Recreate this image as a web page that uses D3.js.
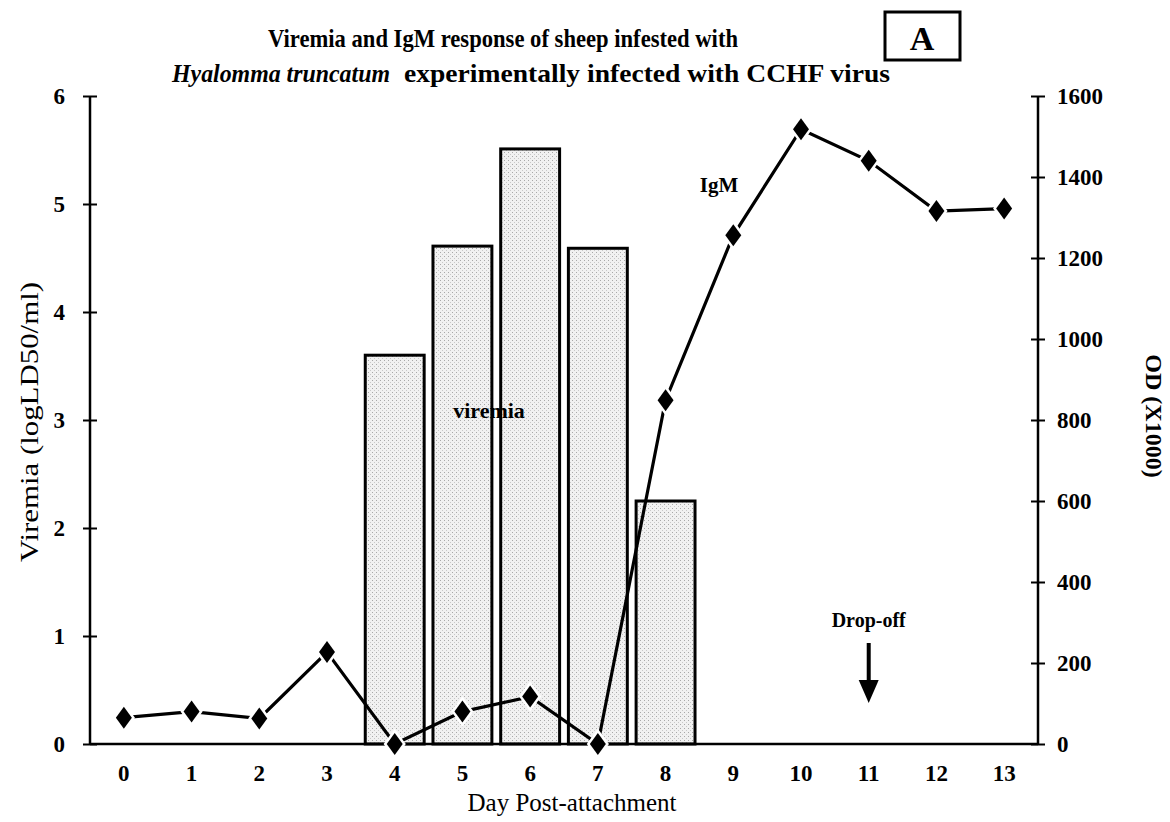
<!DOCTYPE html>
<html>
<head>
<meta charset="utf-8">
<script src="https://cdn.jsdelivr.net/npm/d3@7"></script>
<style>
  body { margin: 0; background: #fff; }
  svg { display: block; font-family: "Liberation Serif", "DejaVu Serif", serif; }
  .tick text { font-weight: bold; font-size: 23px; }
</style>
</head>
<body>
<svg id="chart" width="1170" height="822"></svg>
<script>
// Data
var days = [0, 1, 2, 3, 4, 5, 6, 7, 8, 9, 10, 11, 12, 13];
var igm = [65, 80, 63, 227, 0, 80, 117, 0, 849, 1256, 1518, 1440, 1316, 1322];
var viremiaDays = [4, 5, 6, 7, 8];
var viremia = [3.6, 4.61, 5.51, 4.59, 2.25];
var leftTicks = [0, 1, 2, 3, 4, 5, 6];
var rightTicks = [0, 200, 400, 600, 800, 1000, 1200, 1400, 1600];
var dropDay = 11;

// Layout (plot edges)
var pLeft = 90, pRight = 1038, pTop = 96, pBottom = 744;
var serif = '"Liberation Serif", "DejaVu Serif", serif';

var svg = d3.select('#chart');

var x = d3.scaleBand()
  .domain(days)
  .range([pLeft, pRight])
  .paddingInner(0.13)
  .paddingOuter(0.065);

var xc = function (d) { return x(d) + x.bandwidth() / 2; };

var yL = d3.scaleLinear().domain([0, 6]).range([pBottom, pTop]);
var yR = d3.scaleLinear().domain([0, 1600]).range([pBottom, pTop]);

// stipple pattern for bars
var defs = svg.append('defs');
var pat = defs.append('pattern')
  .attr('id', 'stipple')
  .attr('width', 4).attr('height', 4)
  .attr('patternUnits', 'userSpaceOnUse');
pat.append('rect').attr('width', 4).attr('height', 4).attr('fill', '#f1f1f1');
pat.append('rect').attr('x', 0).attr('y', 0).attr('width', 1).attr('height', 1).attr('fill', '#a8a8a8');
pat.append('rect').attr('x', 2).attr('y', 2).attr('width', 1).attr('height', 1).attr('fill', '#c8c8c8');

// Bars (viremia)
svg.append('g').selectAll('rect')
  .data(viremiaDays)
  .enter().append('rect')
  .attr('x', function (d) { return x(d); })
  .attr('y', function (d, i) { return yL(viremia[i]); })
  .attr('width', x.bandwidth())
  .attr('height', function (d, i) { return yL(0) - yL(viremia[i]); })
  .attr('fill', 'url(#stipple)')
  .attr('stroke', '#000')
  .attr('stroke-width', 3);

// X axis line (no day ticks in the original)
svg.append('line')
  .attr('x1', pLeft).attr('x2', pRight)
  .attr('y1', pBottom).attr('y2', pBottom)
  .attr('stroke', '#000').attr('stroke-width', 2.5);

var xAxis = svg.append('g')
  .attr('transform', 'translate(0,' + pBottom + ')')
  .call(d3.axisBottom(x).tickSize(0).tickPadding(21));
xAxis.attr('font-family', serif);
xAxis.select('.domain').remove();
xAxis.selectAll('text').attr('font-size', 25);

// Left axis (cross ticks)
var axL = svg.append('g')
  .attr('transform', 'translate(' + pLeft + ',0)')
  .call(d3.axisLeft(yL).tickValues(leftTicks).tickFormat(d3.format('d')).tickSize(7).tickPadding(14));
axL.attr('font-family', serif);
axL.select('.domain').attr('d', 'M0,' + pTop + 'V' + pBottom).attr('stroke-width', 2.5);
axL.selectAll('.tick line').attr('x1', 7).attr('x2', -7).attr('stroke-width', 2);
axL.selectAll('text').attr('dx', -4).attr('font-size', 24);

// Right axis
var axR = svg.append('g')
  .attr('transform', 'translate(' + pRight + ',0)')
  .call(d3.axisRight(yR).tickValues(rightTicks).tickFormat(d3.format('d')).tickSize(7).tickPadding(12));
axR.attr('font-family', serif);
axR.select('.domain').attr('d', 'M0,' + pTop + 'V' + pBottom).attr('stroke-width', 2.5);
axR.selectAll('.tick line').attr('x1', -7).attr('x2', 7).attr('stroke-width', 2);
axR.selectAll('text').attr('font-size', 24);

// IgM line
var line = d3.line()
  .x(function (d) { return xc(d); })
  .y(function (d, i) { return yR(igm[i]); });

svg.append('path')
  .datum(days)
  .attr('d', line)
  .attr('fill', 'none')
  .attr('stroke', '#000')
  .attr('stroke-width', 3.2);

// diamond markers with white halo to leave gaps like the original
var diamond = 'M0,-11L8,0L0,11L-8,0Z';
svg.append('g').selectAll('path')
  .data(days)
  .enter().append('path')
  .attr('d', diamond)
  .attr('transform', function (d, i) { return 'translate(' + xc(d) + ',' + yR(igm[i]) + ')'; })
  .attr('fill', '#000')
  .attr('stroke', '#fff')
  .attr('stroke-width', 5)
  .attr('paint-order', 'stroke');

// Annotations
svg.append('text')
  .attr('x', 719).attr('y', 192)
  .attr('text-anchor', 'middle')
  .attr('font-weight', 'bold').attr('font-size', 21)
  .text('IgM');

svg.append('text')
  .attr('x', 489).attr('y', 418)
  .attr('text-anchor', 'middle')
  .attr('font-weight', 'bold').attr('font-size', 22)
  .text('viremia');

svg.append('text')
  .attr('x', xc(dropDay)).attr('y', 627)
  .attr('text-anchor', 'middle')
  .attr('font-size', 20)
  .attr('font-weight', 'bold')
  .text('Drop-off');

svg.append('line')
  .attr('x1', xc(dropDay)).attr('x2', xc(dropDay))
  .attr('y1', 643).attr('y2', 682)
  .attr('stroke', '#000').attr('stroke-width', 4);
svg.append('path')
  .attr('d', 'M' + (xc(dropDay) - 10) + ',680L' + (xc(dropDay) + 10) + ',680L' + xc(dropDay) + ',703Z')
  .attr('fill', '#000');

// Title
svg.append('text')
  .attr('x', 268).attr('y', 47)
  .attr('font-weight', 'bold').attr('font-size', 25)
  .attr('textLength', 470).attr('lengthAdjust', 'spacingAndGlyphs')
  .text('Viremia and IgM response of sheep infested with');
svg.append('text')
  .attr('x', 172).attr('y', 82)
  .attr('font-weight', 'bold').attr('font-size', 25).attr('font-style', 'italic')
  .attr('textLength', 218).attr('lengthAdjust', 'spacingAndGlyphs')
  .text('Hyalomma truncatum');
svg.append('text')
  .attr('x', 404).attr('y', 82)
  .attr('font-weight', 'bold').attr('font-size', 25)
  .attr('textLength', 486).attr('lengthAdjust', 'spacingAndGlyphs')
  .text('experimentally infected with CCHF virus');

// Panel letter box
svg.append('rect')
  .attr('x', 885).attr('y', 12).attr('width', 75).attr('height', 48)
  .attr('fill', 'none').attr('stroke', '#000').attr('stroke-width', 3);
svg.append('text')
  .attr('x', 922).attr('y', 50)
  .attr('text-anchor', 'middle')
  .attr('font-weight', 'bold').attr('font-size', 34)
  .text('A');

// Axis titles
svg.append('text')
  .attr('transform', 'translate(38,' + ((pTop + pBottom) / 2 + 2) + ') rotate(-90)')
  .attr('text-anchor', 'middle')
  .attr('font-size', 26)
  .attr('textLength', 280).attr('lengthAdjust', 'spacingAndGlyphs')
  .text('Viremia (logLD50/ml)');

svg.append('text')
  .attr('transform', 'translate(1146,' + ((pTop + pBottom) / 2 - 4) + ') rotate(90)')
  .attr('text-anchor', 'middle')
  .attr('font-size', 24).attr('font-weight', 'bold')
  .text('OD (X1000)');

svg.append('text')
  .attr('x', 572).attr('y', 811)
  .attr('text-anchor', 'middle')
  .attr('font-size', 25)
  .text('Day Post-attachment');
</script>
</body>
</html>
